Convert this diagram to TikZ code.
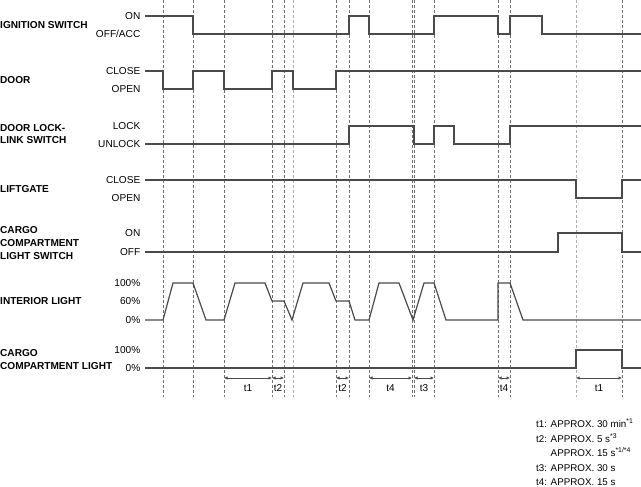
\documentclass[tikz,border=0pt]{standalone}
\usepackage{fontspec}
\setmainfont{Liberation Sans}
\usetikzlibrary{arrows.meta,calc}
\definecolor{sig}{HTML}{4A4A4A}
\definecolor{dashc}{HTML}{707070}
\definecolor{dashl}{HTML}{B0B0B0}
\tikzset{
  sigline/.style={draw=sig, line width=1.2pt, line join=miter},
  guide/.style={draw=dashc, line width=0.6pt, dash pattern=on 3pt off 2pt},
  guidelight/.style={draw=dashl, line width=0.8pt, dash pattern=on 3pt off 2pt},
  lab/.style={anchor=west, inner sep=0pt, font=\fontsize{10.1}{12.8}\selectfont\bfseries, align=left},
  lvl/.style={anchor=east, inner sep=0pt, font=\fontsize{10.1}{11}\selectfont},
  tarrow/.style={draw=sig, line width=0.9pt, {Latex[length=3.5pt,width=3.5pt]}-{Latex[length=3.5pt,width=3.5pt]}},
  tlab/.style={inner sep=0pt, font=\fontsize{10}{11}\selectfont},
  note/.style={anchor=base west, inner sep=0pt, font=\fontsize{9.8}{11}\selectfont}
}
\begin{document}
\begin{tikzpicture}[x=1pt,y=-1pt]
\useasboundingbox (0,0) rectangle (641,487);
% guide lines
\foreach \gx in {163,193,224,272,284,336,349,369,412,414,434,498,510,622}
  \draw[guide] (\gx,0) -- (\gx,397);
\foreach \gx in {293,576}
  \draw[guidelight] (\gx,0) -- (\gx,397);
% labels
\node[lab] (l1) at (0,25) {IGNITION SWITCH};
\node[lab] (l2) at (0,80) {DOOR};
\node[lab] (l3) at (0,134) {DOOR LOCK-\\LINK SWITCH};
\node[lab] (l4) at (0,189) {LIFTGATE};
\node[lab] (l5) at (0,243) {CARGO\\COMPARTMENT\\LIGHT SWITCH};
\node[lab] (l6) at (0,301) {INTERIOR LIGHT};
\node[lab] (l7) at (0,359.5) {CARGO\\COMPARTMENT LIGHT};
% level labels
\node[lvl] (a1) at (140.5,16) {ON};
\node[lvl] (a2) at (140.5,34) {OFF/ACC};
\node[lvl] (b1) at (140.5,71) {CLOSE};
\node[lvl] (b2) at (140.5,89) {OPEN};
\node[lvl] (c1) at (140.5,126) {LOCK};
\node[lvl] (c2) at (140.5,144) {UNLOCK};
\node[lvl] (d1) at (140.5,180) {CLOSE};
\node[lvl] (d2) at (140.5,198) {OPEN};
\node[lvl] (e1) at (140.5,233) {ON};
\node[lvl] (e2) at (140.5,252) {OFF};
\node[lvl] (f1) at (140.5,283) {100\%};
\node[lvl] (f2) at (140.5,301) {60\%};
\node[lvl] (f3) at (140.5,320) {0\%};
\node[lvl] (g1) at (140.5,350) {100\%};
\node[lvl] (g2) at (140.5,368) {0\%};
% signals
\draw[sigline] (145,16)-|(193,34)-|(349,16)-|(369,34)-|(434,16)-|(498,34)-|(510,16)-|(542,34)--(641,34);
\draw[sigline] (145,71)-|(163,89)-|(193,71)-|(224,89)-|(272,71)-|(293,89)-|(336,71)--(641,71);
\draw[sigline] (145,144)-|(349,126)-|(414,144)-|(434,126)-|(454,144)-|(510,126)--(641,126);
\draw[sigline] (145,180)-|(576,198)-|(622,180)--(641,180);
\draw[sigline] (145,252)-|(558,233)-|(622,252)--(641,252);
\draw[sigline] (145,320)--(163,320)--(173,283)--(193,283)--(206,320)--(224,320)--(235,283)--(265,283)--(272,301)--(284,301)--(292,320)--(303,283)--(329,283)--(336,301)--(349,301)--(355,320)--(369,320)--(379,283)--(399,283)--(413,320)--(424,283)--(434,283)--(446,320)--(498,320)--(498,283)--(510,283)--(523,320)--(641,320);
\draw[sigline] (145,368)-|(576,350)-|(622,368)--(641,368);
% time arrows
\foreach \xa/\xb/\tn [count=\i] in {224/272/t1,272/284/t2,336/349/t2,369/412/t4,414/434/t3,498/510/t4,576/622/t1}{
  \coordinate (s\i) at (\xa,378);
  \coordinate (e\i) at (\xb,378);
  \draw[tarrow] (s\i) -- (e\i);
  \node[tlab] (tl\i) at ($(\xa,388)!0.5!(\xb,388)$) {\tn};
}
% notes
\node[note] (n1) at (536,427.5) {t1: APPROX. 30 min\textsuperscript{*1}};
\node[note] (n2) at (536,442) {t2: APPROX. 5 s\textsuperscript{*3}};
\node[note] (n3) at (536,456.5) {\phantom{t2: }APPROX. 15 s\textsuperscript{*1/*4}};
\node[note] (n4) at (536,471) {t3: APPROX. 30 s};
\node[note] (n5) at (536,485.5) {t4: APPROX. 15 s};
\end{tikzpicture}
\end{document}
